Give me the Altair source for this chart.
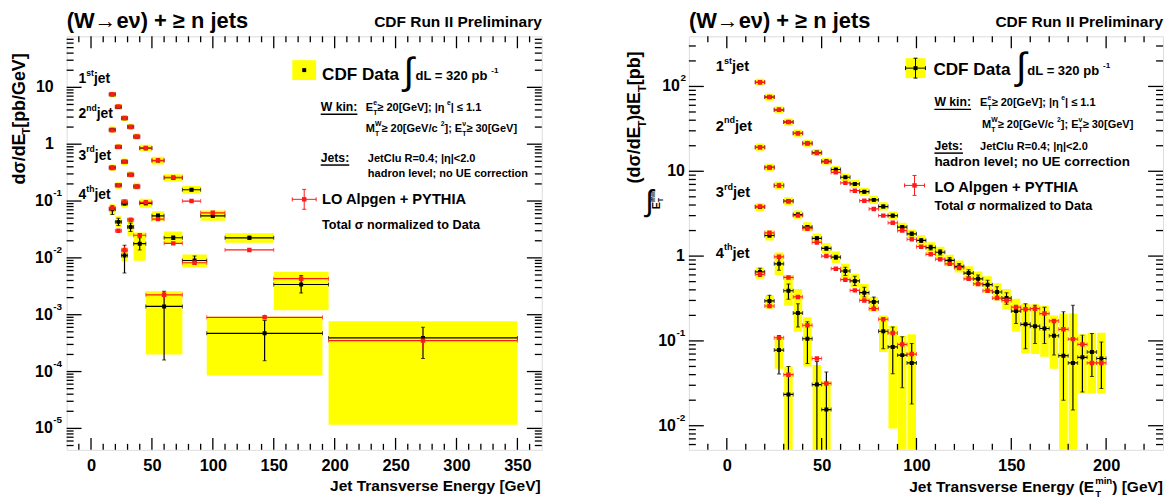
import altair as alt
import pandas as pd

NARROW = "narrow"          # marker: rendered with REG at 0.82 x size (narrow look-alike)
REG = "'Liberation Sans', Arial, sans-serif"
YELLOW = "#ffff00"
RED = "#ff1a1a"

# ================= LEFT PANEL : d sigma / dE_T  [pb/GeV] =================
L1_x   = [17.5, 22.5, 27.5, 32.5, 37.5, 45, 55, 67.5, 82.5, 100, 130, 172.5, 272.5]
L1_lo  = [15, 20, 25, 30, 35, 40, 50, 60, 75, 90, 110, 150, 195]
L1_hi  = [20, 25, 30, 35, 40, 50, 60, 75, 90, 110, 150, 195, 350]
L1_dat = [7.5, 4.5, 2.87, 2.02, 1.35, 0.85, 0.515, 0.257, 0.158, 0.055, 0.0225, 3.4e-3, 3.9e-4]
L1_mc  = [7.6, 4.6, 2.9, 2.0, 1.36, 0.86, 0.52, 0.26, 0.10, 0.062, 0.0138, 4.3e-3, 3.5e-4]
L1_slo = [6.7, 4.0, 2.55, 1.78, 1.18, 0.74, 0.44, 0.22, 0.136, 0.045, 0.0185, 1.2e-3, 1.16e-5]
L1_shi = [8.4, 5.1, 3.25, 2.3, 1.55, 0.98, 0.60, 0.295, 0.183, 0.068, 0.027, 5.7e-3, 7.7e-4]
L1_elo = [7.3, 4.35, 2.78, 1.95, 1.3, 0.82, 0.495, 0.245, 0.15, 0.052, 0.021, 2.4e-3, 1.7e-4]
L1_ehi = [7.7, 4.65, 2.96, 2.09, 1.4, 0.88, 0.535, 0.27, 0.166, 0.059, 0.024, 4.9e-3, 6.0e-4]
L1_mlo = [7.4, 4.5, 2.83, 1.95, 1.32, 0.84, 0.5, 0.25, 0.096, 0.059, 0.0132, 3.9e-3, 2.5e-4]
L1_mhi = [7.8, 4.7, 2.97, 2.05, 1.4, 0.88, 0.54, 0.27, 0.104, 0.065, 0.0144, 4.8e-3, 4.5e-4]

L2_x   = [17.5, 22.5, 27.5, 32.5, 37.5, 45, 55, 67.5, 85, 142.5]
L2_lo  = [15, 20, 25, 30, 35, 40, 50, 60, 75, 95]
L2_hi  = [20, 25, 30, 35, 40, 50, 60, 75, 95, 190]
L2_dat = [1.8, 0.89, 0.49, 0.29, 0.18, 0.091, 0.055, 0.0226, 9.0e-3, 4.7e-4]
L2_mc  = [1.75, 0.90, 0.49, 0.29, 0.18, 0.095, 0.048, 0.018, 8.2e-3, 9.0e-4]
L2_slo = [1.6, 0.79, 0.43, 0.255, 0.156, 0.076, 0.045, 0.0175, 6.8e-3, 8.5e-5]
L2_shi = [2.05, 1.0, 0.56, 0.335, 0.21, 0.11, 0.066, 0.029, 0.0115, 9.2e-4]
L2_elo = [1.75, 0.86, 0.47, 0.28, 0.172, 0.086, 0.051, 0.021, 7.8e-3, 1.55e-4]
L2_ehi = [1.85, 0.92, 0.51, 0.30, 0.188, 0.096, 0.059, 0.0243, 0.0108, 7.9e-4]
L2_mlo = [1.72, 0.88, 0.48, 0.283, 0.176, 0.092, 0.046, 0.0172, 7.8e-3, 8.3e-4]
L2_mhi = [1.78, 0.92, 0.50, 0.297, 0.184, 0.098, 0.050, 0.0188, 8.6e-3, 1.0e-3]

L3_x   = [17.5, 22.5, 27.5, 32.5, 40, 60]
L3_lo  = [15, 20, 25, 30, 35, 45]
L3_hi  = [20, 25, 30, 35, 45, 75]
L3_dat = [0.39, 0.19, 0.090, 0.035, 0.0178, 1.4e-3]
L3_mc  = [0.38, 0.19, 0.098, 0.047, 0.025, 2.24e-3]
L3_slo = [0.34, 0.165, 0.077, 0.024, 0.0089, 2.0e-4]
L3_shi = [0.44, 0.215, 0.106, 0.05, 0.028, 2.6e-3]
L3_elo = [0.375, 0.182, 0.085, 0.029, 0.0138, 1.6e-4]
L3_ehi = [0.405, 0.198, 0.095, 0.041, 0.0225, 2.6e-3]
L3_mlo = [0.37, 0.184, 0.094, 0.044, 0.023, 1.9e-3]
L3_mhi = [0.39, 0.196, 0.102, 0.05, 0.027, 2.6e-3]

L4_x   = [17.5, 22.5, 27.5]
L4_lo  = [15, 20, 25]
L4_hi  = [20, 25, 30]
L4_dat = [0.072, 0.043, 0.011]
L4_mc  = [0.075, 0.030, 0.0136]
L4_slo = [0.058, 0.035, 0.0087]
L4_shi = [0.088, 0.054, 0.0155]
L4_elo = [0.058, 0.037, 0.0054]
L4_ehi = [0.083, 0.050, 0.0166]
L4_mlo = [0.071, 0.028, 0.0125]
L4_mhi = [0.079, 0.032, 0.016]

# ================= RIGHT PANEL : integral above E_T^min  [pb] =================
R_HALF = 2.5   # half bin width [GeV]
R1_x = [17.5, 22.5, 27.5, 32.5, 37.5, 42.5, 47.5, 52.5, 57.5, 62.5, 67.5, 72.5, 77.5,
        82.5, 87.5, 92.5, 97.5, 102.5, 107.5, 112.5, 117.5, 122.5, 127.5, 132.5, 137.5,
        142.5, 147.5, 152.5, 157.5, 162.5, 167.5, 172.5, 177.5, 182.5, 187.5, 192.5, 197.5]
R1_dat = [112, 75, 53, 38, 28, 21.4, 16.6, 13.1, 10.5, 8.5, 7.1, 5.75, 4.6, 3.84, 3.0, 2.2,
          1.83, 1.53, 1.26, 1.11, 0.89, 0.755, 0.63, 0.54, 0.46, 0.377, 0.32, 0.225, 0.157,
          0.149, 0.140, 0.115, 0.067, 0.055, 0.064, 0.074, 0.062]
R1_mc  = [112, 75, 53, 38, 28, 21.2, 16.4, 12.9, 9.7, 7.3, 5.9, 4.5, 3.6, 3.0, 2.47, 2.0,
          1.58, 1.29, 1.05, 0.92, 0.81, 0.73, 0.54, 0.47, 0.39, 0.32, 0.30, 0.25, 0.236,
          0.24, 0.21, 0.172, 0.137, 0.105, 0.091, 0.055, 0.055]
R1_slo = [102, 68, 48, 34.5, 25.5, 19.5, 15.1, 11.9, 9.5, 7.65, 6.4, 5.15, 4.1, 3.45, 2.7,
          1.98, 1.63, 1.32, 1.08, 0.95, 0.76, 0.64, 0.53, 0.44, 0.37, 0.30, 0.235, 0.128,
          0.071, 0.07, 0.065, 0.047, 0.001, 0.001, 0.024, 0.024, 0.024]
R1_shi = [123, 82, 58, 42, 31, 23.5, 18.3, 14.4, 11.6, 9.4, 7.9, 6.4, 5.15, 4.3, 3.35, 2.48,
          2.06, 1.76, 1.46, 1.29, 1.04, 0.89, 0.76, 0.66, 0.58, 0.48, 0.41, 0.315, 0.275,
          0.27, 0.26, 0.2, 0.21, 0.21, 0.12, 0.125, 0.125]
R1_elo = [110, 73.5, 52, 37.2, 27.4, 20.9, 16.2, 12.8, 10.2, 8.25, 6.9, 5.55, 4.43, 3.69,
          2.87, 2.1, 1.74, 1.45, 1.18, 1.03, 0.82, 0.69, 0.57, 0.48, 0.40, 0.32, 0.27, 0.16,
          0.081, 0.093, 0.093, 0.068, 0.020, 0.0153, 0.025, 0.038, 0.0275]
R1_ehi = [114, 76.5, 54, 38.8, 28.6, 21.9, 17.0, 13.4, 10.8, 8.75, 7.3, 5.95, 4.77, 3.99,
          3.13, 2.3, 1.92, 1.61, 1.34, 1.19, 0.96, 0.82, 0.69, 0.60, 0.52, 0.435, 0.37, 0.263,
          0.275, 0.263, 0.25, 0.175, 0.22, 0.263, 0.117, 0.122, 0.097]

R2_x = [17.5, 22.5, 27.5, 32.5, 37.5, 42.5, 47.5, 52.5, 57.5, 62.5, 67.5, 72.5, 77.5,
        82.5, 87.5, 92.5, 97.5]
R2_dat = [19.2, 11.1, 6.8, 4.45, 3.09, 2.2, 1.62, 1.23, 0.97, 0.667, 0.51, 0.37, 0.288,
          0.13, 0.085, 0.068, 0.055]
R2_mc  = [19.2, 11.1, 6.8, 4.4, 3.0, 2.1, 1.45, 1.0, 0.71, 0.527, 0.394, 0.30, 0.24, 0.18,
          0.124, 0.091, 0.070]
R2_slo = [17.4, 10.0, 6.1, 4.0, 2.75, 1.95, 1.42, 1.07, 0.83, 0.54, 0.43, 0.30, 0.22,
          0.074, 0.0093, 0.001, 0.001]
R2_shi = [21.2, 12.3, 7.6, 4.95, 3.45, 2.5, 1.85, 1.42, 1.13, 0.81, 0.62, 0.47, 0.33, 0.20,
          0.15, 0.115, 0.12]
R2_elo = [18.8, 10.8, 6.6, 4.3, 2.98, 2.11, 1.55, 1.17, 0.92, 0.59, 0.45, 0.33, 0.246,
          0.081, 0.041, 0.028, 0.018]
R2_ehi = [19.6, 11.4, 7.0, 4.6, 3.2, 2.29, 1.69, 1.29, 1.02, 0.74, 0.58, 0.43, 0.33, 0.18,
          0.146, 0.112, 0.093]

R3_x = [17.5, 22.5, 27.5, 32.5, 37.5, 42.5, 47.5, 52.5]
R3_dat = [3.8, 1.75, 0.81, 0.39, 0.213, 0.106, 0.0306, 0.0155]
R3_mc  = [3.85, 1.88, 0.98, 0.56, 0.33, 0.153, 0.062, 0.0315]
R3_slo = [3.4, 1.53, 0.6, 0.26, 0.128, 0.05, 0.001, 0.001]
R3_shi = [4.2, 2.0, 1.1, 0.6, 0.41, 0.19, 0.052, 0.034]
R3_elo = [3.7, 1.68, 0.68, 0.31, 0.146, 0.054, 0.001, 0.001]
R3_ehi = [3.9, 1.83, 0.97, 0.47, 0.275, 0.168, 0.057, 0.043]

R4_x = [17.5, 22.5, 27.5, 32.5]
R4_dat = [0.65, 0.296, 0.078, 0.0234]
R4_mc  = [0.61, 0.258, 0.109, 0.040]
R4_slo = [0.54, 0.24, 0.047, 0.001]
R4_shi = [0.74, 0.345, 0.112, 0.05]
R4_elo = [0.58, 0.25, 0.0406, 0.001]
R4_ehi = [0.72, 0.345, 0.116, 0.05]

# ================= geometry / scales =================
W1, W2, H = 478, 477, 416
SX1 = alt.Scale(domain=[-20, 370], nice=False, zero=False)
SY1 = alt.Scale(type="log", domain=[4.2e-6, 79], nice=False)
SX2 = alt.Scale(domain=[-20, 230], nice=False, zero=False)
SY2 = alt.Scale(type="log", domain=[0.0052, 390], nice=False)


def xaxis(values):
    return alt.Axis(title=None, values=values, ticks=False, domain=False, grid=False,
                    labelFont=REG, labelFontSize=16.5, labelFontWeight="bold",
                    labelColor="black", labelPadding=8, labelOverlap=False, labelFlush=False)


AX1 = xaxis([0, 50, 100, 150, 200, 250, 300, 350])
AX2 = xaxis([0, 50, 100, 150, 200])
ONE = pd.DataFrame({"a": [0]})

CW = {" ": .278, "(": .333, ")": .333, "+": .584, "-": .333, ".": .278, "/": .278, ":": .333,
      ";": .333, "=": .584, "[": .333, "]": .333, "|": .280, "<": .584, ">": .584, "≥": .549,
      "≤": .549, "→": .84, "σ": .62, "η": .55, "ν": .556,
      "A": .722, "B": .722, "C": .722, "D": .722, "E": .667, "F": .611, "G": .778, "H": .722,
      "I": .278, "J": .556, "K": .722, "L": .611, "M": .833, "N": .722, "O": .778, "P": .667,
      "R": .722, "S": .667, "T": .611, "U": .722, "V": .667, "W": .944, "Y": .667,
      "a": .556, "b": .611, "c": .556, "d": .611, "e": .556, "f": .333, "g": .611, "h": .611,
      "i": .278, "j": .278, "k": .556, "l": .278, "m": .889, "n": .611, "o": .611, "p": .611,
      "r": .389, "s": .556, "t": .333, "u": .611, "v": .556, "y": .556, "z": .5}


def tw(s, size, narrow=True):
    return sum(CW.get(c, .556) for c in s) * size * (0.82 if narrow else 1.0)


def txt(s, x, y, size, font=NARROW, weight="bold", align="left", angle=0, color="black"):
    if font == NARROW:
        font, size = REG, size * 0.82
    return alt.Chart(ONE).mark_text(text=s, align=align, baseline="alphabetic", font=font,
                                    fontSize=size, fontWeight=weight, angle=angle,
                                    color=color).encode(x=alt.value(x), y=alt.value(y))


def rich_width(segs, size, narrow=True):
    pos, pend = 0.0, 0.0
    for s, kind in segs:
        base = kind[:-1] if kind.endswith("x") else kind
        fs = size if base == "n" else size * 0.62
        w = tw(s, fs, narrow)
        if kind.endswith("x"):
            pend = w
        else:
            pos += max(w, pend)
            pend = 0.0
    return pos


def rich(segs, x, y, size, narrow=True, angle=0, align="left"):
    font = NARROW if narrow else REG
    if align == "right":
        if angle == 0:
            x -= rich_width(segs, size, narrow)
        else:
            y += rich_width(segs, size, narrow)
    out, pos, pend = [], 0.0, 0.0
    for s, kind in segs:
        base = kind[:-1] if kind.endswith("x") else kind
        fs = size if base == "n" else size * 0.62
        off = 0.0 if base == "n" else (0.3 * size if base == "sub" else -0.42 * size)
        w = tw(s, fs, narrow)
        if angle == 0:
            px, py = x + pos, y + off
        else:
            px, py = x + off, y - pos
        out.append(txt(s, px, py, fs, font=font, angle=angle))
        if kind.endswith("x"):
            pend = w
        else:
            pos += max(w, pend)
            pend = 0.0
    return out


def rule(x, x2, y, y2=None, color="black", w=1.0):
    enc = dict(x=alt.value(x), x2=alt.value(x2), y=alt.value(y))
    if y2 is not None:
        enc["y2"] = alt.value(y2)
    return alt.Chart(ONE).mark_rule(color=color, strokeWidth=w).encode(**enc)


def box(x, x2, y, y2, color):
    return alt.Chart(ONE).mark_rect(color=color).encode(
        x=alt.value(x), x2=alt.value(x2), y=alt.value(y), y2=alt.value(y2))


def dot(x, y, color, size):
    return alt.Chart(ONE).mark_square(color=color, size=size, opacity=1).encode(
        x=alt.value(x), y=alt.value(y))


def cross(cx, cy, hw, hh, color):
    return [rule(cx - hw, cx + hw, cy, color=color), rule(cx, cx, cy - hh, cy + hh, color=color),
            rule(cx - hw, cx - hw, cy - 2, cy + 2, color=color),
            rule(cx + hw, cx + hw, cy - 2, cy + 2, color=color),
            rule(cx - 2, cx + 2, cy - hh, cy - hh, color=color),
            rule(cx - 2, cx + 2, cy + hh, cy + hh, color=color)]


# ================= data frames =================
def left_df():
    parts = []
    for x, lo, hi, d, m, sl, sh, el, eh, ml, mh in [
        (L1_x, L1_lo, L1_hi, L1_dat, L1_mc, L1_slo, L1_shi, L1_elo, L1_ehi, L1_mlo, L1_mhi),
        (L2_x, L2_lo, L2_hi, L2_dat, L2_mc, L2_slo, L2_shi, L2_elo, L2_ehi, L2_mlo, L2_mhi),
        (L3_x, L3_lo, L3_hi, L3_dat, L3_mc, L3_slo, L3_shi, L3_elo, L3_ehi, L3_mlo, L3_mhi),
        (L4_x, L4_lo, L4_hi, L4_dat, L4_mc, L4_slo, L4_shi, L4_elo, L4_ehi, L4_mlo, L4_mhi)]:
        parts.append(pd.DataFrame(dict(x=x, lo=lo, hi=hi, blo=lo, bhi=hi, dat=d, mc=m, slo=sl,
                                       shi=sh, elo=el, ehi=eh, mlo=ml, mhi=mh)))
    return pd.concat(parts, ignore_index=True)


def right_df():
    parts = []
    for x, d, m, sl, sh, el, eh in [
        (R1_x, R1_dat, R1_mc, R1_slo, R1_shi, R1_elo, R1_ehi),
        (R2_x, R2_dat, R2_mc, R2_slo, R2_shi, R2_elo, R2_ehi),
        (R3_x, R3_dat, R3_mc, R3_slo, R3_shi, R3_elo, R3_ehi),
        (R4_x, R4_dat, R4_mc, R4_slo, R4_shi, R4_elo, R4_ehi)]:
        df = pd.DataFrame(dict(x=x, dat=d, mc=m, slo=sl, shi=sh, elo=el, ehi=eh))
        df["lo"] = df["x"] - R_HALF
        df["hi"] = df["x"] + R_HALF
        df["blo"] = df["x"] - 0.9 * R_HALF
        df["bhi"] = df["x"] + 0.9 * R_HALF
        parts.append(df)
    return pd.concat(parts, ignore_index=True)


def data_layers(df, SX, SY, AX, mc_err):
    X = lambda f: alt.X(f + ":Q", scale=SX, axis=AX)
    Y = lambda f: alt.Y(f + ":Q", scale=SY, axis=None)
    base = alt.Chart(df)
    L = [base.mark_rect(color=YELLOW, clip=True).encode(x=X("blo"), x2="bhi:Q", y=Y("slo"), y2="shi:Q"),
         base.mark_rule(color="black", strokeWidth=1.2, clip=True).encode(x=X("lo"), x2="hi:Q", y=Y("dat")),
         base.mark_rule(color="black", strokeWidth=1.2, clip=True).encode(x=X("x"), y=Y("elo"), y2="ehi:Q"),
         base.mark_tick(color="black", orient="vertical", size=4, thickness=1, clip=True).encode(x=X("lo"), y=Y("dat")),
         base.mark_tick(color="black", orient="vertical", size=4, thickness=1, clip=True).encode(x=X("hi"), y=Y("dat")),
         base.mark_tick(color="black", orient="horizontal", size=4, thickness=1, clip=True).encode(x=X("x"), y=Y("elo")),
         base.mark_tick(color="black", orient="horizontal", size=4, thickness=1, clip=True).encode(x=X("x"), y=Y("ehi")),
         base.mark_rule(color=RED, strokeWidth=1.2, clip=True).encode(x=X("lo"), x2="hi:Q", y=Y("mc")),
         base.mark_tick(color=RED, orient="vertical", size=4, thickness=1, clip=True).encode(x=X("lo"), y=Y("mc")),
         base.mark_tick(color=RED, orient="vertical", size=4, thickness=1, clip=True).encode(x=X("hi"), y=Y("mc"))]
    if mc_err:
        L.append(base.mark_rule(color=RED, strokeWidth=1.2, clip=True).encode(x=X("x"), y=Y("mlo"), y2="mhi:Q"))
    L.append(base.mark_square(color="black", size=16, opacity=1, clip=True).encode(x=X("x"), y=Y("dat")))
    L.append(base.mark_square(color=RED, size=20, opacity=1, clip=True).encode(x=X("x"), y=Y("mc")))
    return L


def tick_layers(SX, SY, AX, W, xmaj, xmin, ymaj, ymin):
    out = []
    for vals, ln in ((xmaj, 12), (xmin, 6)):
        d = alt.Chart(pd.DataFrame({"t": vals}))
        xe = alt.X("t:Q", scale=SX, axis=AX)
        out.append(d.mark_rule(color="black", strokeWidth=1.3).encode(x=xe, y=alt.value(H), y2=alt.value(H - ln)))
        out.append(d.mark_rule(color="black", strokeWidth=1.3).encode(x=xe, y=alt.value(0), y2=alt.value(ln)))
    for vals, ln in ((ymaj, 15), (ymin, 7)):
        d = alt.Chart(pd.DataFrame({"t": vals}))
        ye = alt.Y("t:Q", scale=SY, axis=None)
        out.append(d.mark_rule(color="black", strokeWidth=1.3).encode(y=ye, x=alt.value(0), x2=alt.value(ln)))
        out.append(d.mark_rule(color="black", strokeWidth=1.3).encode(y=ye, x=alt.value(W), x2=alt.value(W - ln)))
    return out


def ylabel_layers(SY, plain, plain_x, sups, size=16):
    out = []
    d = pd.DataFrame({"v": [p[0] for p in plain], "s": [p[1] for p in plain]})
    out.append(alt.Chart(d).mark_text(align="right", baseline="middle", font=REG, fontSize=size,
                                      fontWeight="bold", color="black").encode(
        y=alt.Y("v:Q", scale=SY, axis=None), x=alt.value(plain_x), text="s:N"))
    for vals, labs, bx in sups:
        d = pd.DataFrame({"v": vals, "s": labs})
        out.append(alt.Chart(d).mark_text(align="right", baseline="middle", font=REG, fontSize=size,
                                          fontWeight="bold", color="black").encode(
            y=alt.Y("v:Q", scale=SY, axis=None), x=alt.value(bx), text=alt.value("10")))
        out.append(alt.Chart(d).mark_text(align="left", baseline="middle", font=REG, fontSize=10,
                                          fontWeight="bold", color="black", dy=-8).encode(
            y=alt.Y("v:Q", scale=SY, axis=None), x=alt.value(bx + 0.5), text="s:N"))
    return out


def log_minor(lo_e, hi_e, lo, hi):
    return [m * 10.0 ** e for e in range(lo_e, hi_e) for m in range(2, 10) if lo <= m * 10.0 ** e <= hi]


# ================= LEFT PANEL =================
lx_maj = [0, 50, 100, 150, 200, 250, 300, 350]
lx_min = [v for v in range(-10, 370, 10) if v % 50 != 0]
ly_maj = [1e-5, 1e-4, 1e-3, 1e-2, 1e-1, 1, 10]
ly_min = log_minor(-6, 2, 4.2e-6, 79)

left_layers = data_layers(left_df(), SX1, SY1, AX1, True)
left_layers += tick_layers(SX1, SY1, AX1, W1, lx_maj, lx_min, ly_maj, ly_min)
left_layers += ylabel_layers(SY1, [(10, "10"), (1, "1")], -13,
                             [([0.1, 0.01, 1e-3, 1e-4, 1e-5], ["-1", "-2", "-3", "-4", "-5"], -14)])
# titles
left_layers.append(txt("(W→eν) + ≥ n jets", 0, -8, 22, font=REG))
left_layers.append(txt("CDF Run II Preliminary", W1, -9.5, 19, align="right"))
left_layers += rich([("Jet Transverse Energy [GeV]", "n")], W1, 457, 19, align="right")
left_layers += rich([("dσ/dE", "n"), ("T", "sub"), (" [pb/GeV]", "n")], -42, 149, 18,
                    narrow=False, angle=270)
# jet labels
for lab, sup, yy in (("1", "st", 47), ("2", "nd", 82), ("3", "rd", 124), ("4", "th", 164)):
    left_layers += rich([(lab, "n"), (sup, "sup"), ("jet", "n")], 12, yy, 17)
# legend
left_layers.append(box(227, 251, 24, 44, YELLOW))
left_layers.append(dot(239, 34, "black", 16))
left_layers.append(txt("CDF Data", 257, 44, 21))
left_layers.append(txt("∫", 339, 48, 38, font=REG, weight="normal"))
left_layers += rich([("dL =  320 pb", "n"), ("-1", "sup")], 351, 44, 16)
left_layers.append(txt("W kin:", 255.6, 75, 15))
left_layers.append(rule(255.6, 255.6 + tw("W kin:", 15), 78.5, w=1.5))
left_layers += rich([("E", "n"), ("T", "subx"), ("e", "sup"), (" ≥ 20[GeV]; |η", "n"), ("e", "sup"),
                     ("| ≤ 1.1", "n")], 301, 75, 13.5)
left_layers += rich([("M", "n"), ("T", "subx"), ("W", "sup"), (" ≥ 20[GeV/c", "n"), ("2", "sup"),
                     ("]; E", "n"), ("T", "subx"), ("ν", "sup"), (" ≥ 30[GeV]", "n")], 301, 96, 13.5)
left_layers.append(txt("Jets:", 255.6, 126, 15))
left_layers.append(rule(255.6, 255.6 + tw("Jets:", 15), 129.5, w=1.5))
left_layers.append(txt("JetClu R=0.4; |η|<2.0", 303, 126, 13.5))
left_layers.append(txt("hadron level; no UE correction", 303, 142, 13.5))
left_layers += cross(239, 164, 12, 10, RED)
left_layers.append(dot(239, 164, RED, 20))
left_layers.append(txt("LO Alpgen + PYTHIA", 257, 169, 18))
left_layers.append(txt("Total σ normalized to Data", 257, 194, 15.5))

left = alt.layer(*left_layers).properties(width=W1, height=H)

# ================= RIGHT PANEL =================
rx_maj = [0, 50, 100, 150, 200]
rx_min = [v for v in range(-10, 230, 10) if v % 50 != 0]
ry_maj = [0.01, 0.1, 1, 10, 100]
ry_min = log_minor(-3, 3, 0.0052, 390)

right_layers = data_layers(right_df(), SX2, SY2, AX2, False)
right_layers += tick_layers(SX2, SY2, AX2, W2, rx_maj, rx_min, ry_maj, ry_min)
right_layers += ylabel_layers(SY2, [(10, "10"), (1, "1")], -4,
                              [([100], ["2"], -9), ([0.1, 0.01], ["-1", "-2"], -13)])
right_layers.append(txt("(W→eν) + ≥ n jets", 0, -8, 22, font=REG))
right_layers.append(txt("CDF Run II Preliminary", W2, -9.5, 19, align="right"))
right_layers += rich([("Jet Transverse Energy (E", "n"), ("T", "subx"), ("min", "sup"),
                      (") [GeV]", "n")], W2, 458, 19, align="right")
right_layers += rich([("(dσ/dE", "n"), ("T", "sub"), (")dE", "n"), ("T", "sub"), (" [pb]", "n")],
                     -49, 148, 18, narrow=False, angle=270)
right_layers.append(txt("∫", -44, 176, 30, font=REG, weight="normal"))
right_layers += rich([("E", "n"), ("T", "subx"), ("min", "sup")], -29, 174, 11, narrow=False, angle=270)
for lab, sup, yy in (("1", "st", 35), ("2", "nd", 95), ("3", "rd", 162), ("4", "th", 223)):
    right_layers += rich([(lab, "n"), (sup, "sup"), ("jet", "n")], 27, yy, 18)
right_layers.append(box(218, 238, 22, 42, YELLOW))
right_layers += cross(228, 32, 10, 10, "black")
right_layers.append(dot(228, 32, "black", 16))
right_layers.append(txt("CDF Data", 246, 39, 21))
right_layers.append(txt("∫", 329, 43, 38, font=REG, weight="normal"))
right_layers += rich([("dL =  320 pb", "n"), ("-1", "sup")], 340.5, 39, 16)
right_layers.append(txt("W kin:", 247, 70, 15))
right_layers.append(rule(247, 247 + tw("W kin:", 15), 73.5, w=1.5))
right_layers += rich([("E", "n"), ("T", "subx"), ("e", "sup"), (" ≥ 20[GeV]; |η", "n"), ("e", "sup"),
                      ("| ≤ 1.1", "n")], 293, 70, 13.5)
right_layers += rich([("M", "n"), ("T", "subx"), ("W", "sup"), (" ≥ 20[GeV/c", "n"), ("2", "sup"),
                      ("]; E", "n"), ("T", "subx"), ("ν", "sup"), (" ≥ 30[GeV]", "n")], 295, 92, 13.5)
right_layers.append(txt("Jets:", 247, 114, 15))
right_layers.append(rule(247, 247 + tw("Jets:", 15), 117.5, w=1.5))
right_layers.append(txt("JetClu R=0.4; |η|<2.0", 293, 114, 13.5))
right_layers.append(txt("hadron level; no UE correction", 247, 130, 16.5))
right_layers += cross(227, 150, 10, 10, RED)
right_layers.append(dot(227, 150, RED, 20))
right_layers.append(txt("LO Alpgen + PYTHIA", 247, 157, 18))
right_layers.append(txt("Total σ normalized to Data", 247, 175, 15.5))

right = alt.layer(*right_layers).properties(width=W2, height=H)

chart = alt.hconcat(left, right, spacing=148, bounds="flush").properties(
    padding={"left": 2, "top": 0, "right": 0, "bottom": 0}
).configure_view(stroke="black", strokeWidth=2).configure(background="white")

chart.save("out.html", embed_options={"renderer": "svg", "actions": False})
